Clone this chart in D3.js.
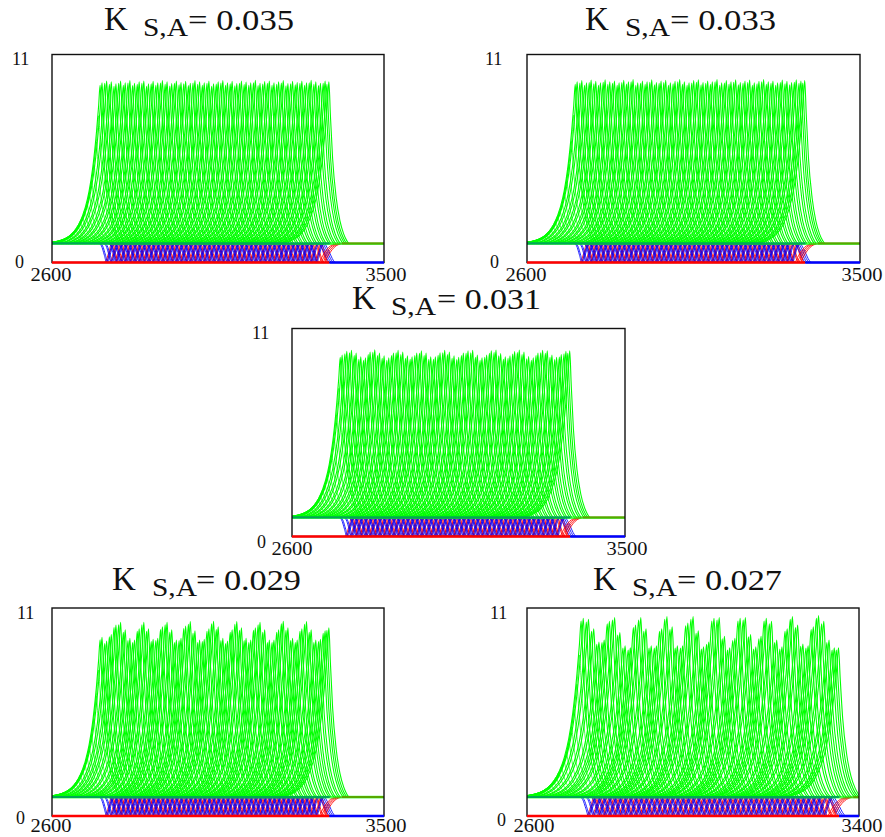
<!DOCTYPE html>
<html><head><meta charset="utf-8">
<style>html,body{margin:0;padding:0;background:#fff}svg{display:block}</style>
<script src="https://cdn.jsdelivr.net/npm/d3@7"></script></head>
<body><svg id="c" width="885" height="837"></svg>
<script>
// ---------- values ----------
const kValues = ["0.035","0.033","0.031","0.029","0.027"];
const xTickSets = [[2600,3500],[2600,3500],[2600,3500],[2600,3500],[2600,3400]];
const yTicks = [0,11];
const restLevel = 1;
const leadTimes = [2619.6,2626,2632.2,2638.5,2644.8,2651,2657.4,2663.7,2670,2676.3,2682.6,2689,2695.2,2701.5,2707.8,2714,2720.4,2726.7];
const spikeTimes = [2733,2745.6,2758.2,2770.8,2783.4,2796,2808.6,2821.2,2833.8,2846.4,2859,2871.6,2884.2,2896.8,2909.4,2922,2934.6,2947.2,2959.8,2972.4,2985,2997.6,3010.2,3022.8,3035.4,3048,3060.6,3073.2,3085.8,3098.4,3111,3123.6,3136.2,3148.8,3161.4,3174,3186.6,3199.2,3211.8,3224.4,3237,3249.6,3262.2,3274.8,3287.4,3300,3312.6,3325.2,3337.8,3348];
const leadPeaks = [1.08,1.12,1.17,1.25,1.35,1.47,1.6,1.76,1.95,2.18,2.45,2.75,3.1,3.6,4.25,5.2,6.4,7.8];
const peaks035 = [9.5,9.6,9.55,9.45,9.6,9.5,9.62,9.48,9.55,9.6,9.45,9.58,9.5,9.62,9.55,9.46,9.6,9.52,9.58,9.48,9.62,9.55,9.5,9.6,9.45,9.56,9.62,9.5,9.58,9.47,9.6,9.54,9.5,9.63,9.48,9.57,9.6,9.5,9.55,9.62,9.47,9.58,9.52,9.6,9.5,9.63,9.55,9.48,9.6,9.55];
const peaks033 = [9.55,9.62,9.5,9.65,9.58,9.5,9.66,9.55,9.6,9.5,9.64,9.56,9.68,9.5,9.6,9.55,9.66,9.52,9.6,9.64,9.5,9.58,9.68,9.55,9.5,9.62,9.66,9.52,9.6,9.55,9.68,9.5,9.62,9.56,9.66,9.52,9.6,9.65,9.5,9.58,9.68,9.55,9.6,9.5,9.65,9.58,9.52,9.66,9.6,9.62];
const peaks031 = [9.6,9.8,9.85,9.7,9.5,9.45,9.75,9.88,9.7,9.55,9.45,9.7,9.85,9.75,9.55,9.5,9.7,9.82,9.7,9.5,9.5,9.72,9.85,9.75,9.55,9.48,9.7,9.82,9.85,9.6,9.45,9.6,9.82,9.86,9.68,9.5,9.55,9.78,9.86,9.75,9.52,9.45,9.7,9.85,9.82,9.6,9.48,9.62,9.8,9.82];
const peaks029 = [9.45,9.25,9.6,10.1,10.25,9.85,9.4,9.3,9.9,10.25,9.9,9.35,9.4,10,10.25,9.85,9.3,9.4,10.05,10.28,9.8,9.3,9.35,9.9,10.3,10,9.4,9.25,9.85,10.28,9.95,9.4,9.3,9.95,10.25,9.85,9.3,9.3,9.85,10.3,9.95,9.4,9.3,9.9,10.28,9.85,9.3,9.35,9.8,9.95];
const peaks027 = [10.45,10.4,9.9,9.2,9.3,10.3,10.5,9.7,9,8.9,10.1,10.5,9.9,9,9,9.9,10.55,10,9,9,10.2,10.55,9.8,8.95,9.2,10.45,10.5,9.5,8.9,9.4,10.45,10.5,9.6,8.95,9.5,10.45,10.3,9.3,8.95,9.9,10.55,10.1,9.1,9,10,10.6,10.3,9.3,8.9,8.9];
// shape of one spike: time offset from its peak, share of its height above rest
const spikeOffsets = [-130,-100,-80,-60,-40,-30,-20,-10,-4,0,4,10,20,30,40,48,54];
const spikeShares  = [0,.02,.05,.11,.23,.33,.48,.7,.87,1,.8,.53,.28,.14,.06,.02,0];
// the neighbouring oscillators run just beside each other
const twinShifts = [-2.6,2.6];
const twinHeights = [.985,1];
// shape of one dip/rise of the two low variables
const waveOffsets = [0,6,14,20,26,34,40];
const waveShares  = [0,.12,.62,1,.62,.12,0];
const waveShifts = [0,3.2];
// last passage of the low variables to their final level
const exitOffsets = [0,13,25,46];
const redExitLevels = [0,.5,.8,1];
const blueExitOffsets = [0,13,20,27];
const blueExitLevels = [1,.5,.2,0];
const blueLead = 5, redLead = 8, lastWaveStart = 3305, exitStarts = [3325,3330,3335,3340];
const colors = {high:"#00ff00", mid:"#0000ff", low:"#ff0000", frame:"#111"};

// ---------- layout ----------
const panels = [
 {l:52,r:384,t:54.5,b:262.5,peaks:peaks035,title:[104,143,188,294,30],y11:[12,64],y0:[15,267],xa:[30,365,281]},
 {l:527,r:860,t:54.5,b:262.5,peaks:peaks033,title:[585,625,670,776,30],y11:[485,64],y0:[490,267],xa:[505,841,281]},
 {l:292,r:625,t:328.5,b:536.5,peaks:peaks031,title:[352,391,437,541,309],y11:[252,338],y0:[257,547],xa:[271,606,555]},
 {l:52,r:384,t:608,b:816,peaks:peaks029,title:[112,152,196,301,590],y11:[17,618],y0:[16,823],xa:[30,365,832]},
 {l:527,r:859,t:608,b:816,peaks:peaks027,title:[593,632,677,782,590],y11:[490,618],y0:[497,825],xa:[513,841,832]}
];
const serif = "'Liberation Serif','Times New Roman',serif";
const svg = d3.select("#c");

panels.forEach((p,pi)=>{
  const x = d3.scaleLinear().domain(d3.extent(xTickSets[pi])).range([p.l,p.r]);
  const y = d3.scaleLinear().domain([0,11]).range([p.b,p.t]);
  const line = d3.line().x(d=>x(d[0])).y(d=>y(d[1])).curve(d3.curveMonotoneX);
  svg.append("clipPath").attr("id","f"+pi).append("rect").attr("x",p.l).attr("y",p.t).attr("width",p.r-p.l).attr("height",p.b-p.t+2);
  const g = svg.append("g").attr("fill","none").attr("clip-path",`url(#f${pi})`);
  const lead = leadPeaks.map((v,i)=>[leadTimes[i],restLevel+(v-restLevel)*(p.peaks[0]-restLevel)/8.55]);
  const main = p.peaks.map((v,i)=>[spikeTimes[i],v]);
  const twins = main.flatMap(([t,v])=>twinShifts.map((s,j)=>[t+s,restLevel+(v-restLevel)*twinHeights[j]]));
  const spikePath = ([t,v])=>line(spikeOffsets.map((o,i)=>[t+o,restLevel+(v-restLevel)*spikeShares[i]]));
  g.append("g").attr("stroke",colors.high).attr("stroke-width",.7)
   .selectAll("path").data(lead).join("path").attr("d",spikePath);
  g.append("g").attr("stroke",colors.high).attr("stroke-width",1.1)
   .selectAll("path").data(twins).join("path").attr("d",spikePath);
  const waves = spikeTimes.filter(t=>t<lastWaveStart).flatMap(t=>waveShifts.map(s=>t+s));
  g.append("g").attr("stroke",colors.low).attr("stroke-width",.85)
   .selectAll("path").data(waves).join("path")
   .attr("d",t=>line(waveOffsets.map((o,i)=>[t+redLead+o,restLevel*waveShares[i]])));
  g.append("g").attr("stroke",colors.mid).attr("stroke-width",.85)
   .selectAll("path").data(waves).join("path")
   .attr("d",t=>line(waveOffsets.map((o,i)=>[t-blueLead+o,restLevel*(1-waveShares[i])])));
  g.append("g").attr("stroke",colors.mid).attr("stroke-width",.85)
   .selectAll("path").data(exitStarts).join("path")
   .attr("d",t=>line(blueExitOffsets.map((o,i)=>[t+o,blueExitLevels[i]])));
  g.append("g").attr("stroke",colors.low).attr("stroke-width",.85)
   .selectAll("path").data(exitStarts).join("path")
   .attr("d",t=>line(exitOffsets.map((o,i)=>[t+o,redExitLevels[i]])));
  const [d0,d1]=x.domain();
  const plain = d3.line().x(d=>x(d[0])).y(d=>y(d[1]));
  const lastT = exitStarts[exitStarts.length-1];
  g.append("path").attr("d",plain([[d0,restLevel],[lastT+13,restLevel]])).attr("stroke",colors.mid).attr("stroke-width",2);
  g.append("path").attr("d",plain([[lastT+46,restLevel],[d1,restLevel]])).attr("stroke",colors.low).attr("stroke-width",2);
  g.append("path").attr("d",plain([[d0,restLevel],[d1,restLevel]])).attr("stroke",colors.high).attr("stroke-width",2.6).attr("stroke-opacity",.66);
  svg.append("rect").attr("fill","none").attr("x",p.l).attr("y",p.t).attr("width",p.r-p.l).attr("height",p.b-p.t)
   .attr("stroke",colors.frame).attr("stroke-width",1.4);
  svg.append("path").attr("fill","none").attr("d",plain([[d0,0],[lastT+12,0]])).attr("stroke",colors.low).attr("stroke-width",2.6);
  svg.append("path").attr("fill","none").attr("d",plain([[lastT+12,0],[d1,0]])).attr("stroke",colors.mid).attr("stroke-width",2.6);

  const ax = svg.append("g").attr("transform",`translate(0,${p.xa[2]})`)
    .call(d3.axisBottom(x).tickValues(xTickSets[pi]).tickSize(0).tickFormat(d3.format("d")));
  ax.select(".domain").remove();
  ax.selectAll("text").attr("y",0).attr("dy",0).attr("text-anchor","start")
    .attr("font-family",serif).attr("font-size",18).attr("fill","#111")
    .attr("textLength",41).attr("lengthAdjust","spacingAndGlyphs")
    .attr("x",(d,i)=>p.xa[i]-x(d));
  const ay = svg.append("g").call(d3.axisLeft(y).tickValues(yTicks).tickSize(0).tickFormat(d3.format("d")));
  ay.select(".domain").remove();
  ay.selectAll("text").attr("x",0).attr("dy",0).attr("text-anchor","start")
    .attr("font-family",serif).attr("font-size",18).attr("fill","#111")
    .attr("transform",d=>{const a=d===11?p.y11:p.y0;return `translate(${a[0]},${a[1]-y(d)})`;});

  const [kx,sx,ex,endx,by]=p.title;
  const tg = svg.append("g").attr("font-family",serif).attr("fill","#111");
  tg.append("text").attr("x",kx).attr("y",by).attr("font-size",33).text("K");
  tg.append("text").attr("x",sx).attr("y",by+6).attr("font-size",26).attr("textLength",45).attr("lengthAdjust","spacingAndGlyphs").text("S,A");
  tg.append("text").attr("x",ex).attr("y",by).attr("font-size",30).attr("textLength",endx-ex).attr("lengthAdjust","spacingAndGlyphs").text("= "+kValues[pi]);
});
</script></body></html>
